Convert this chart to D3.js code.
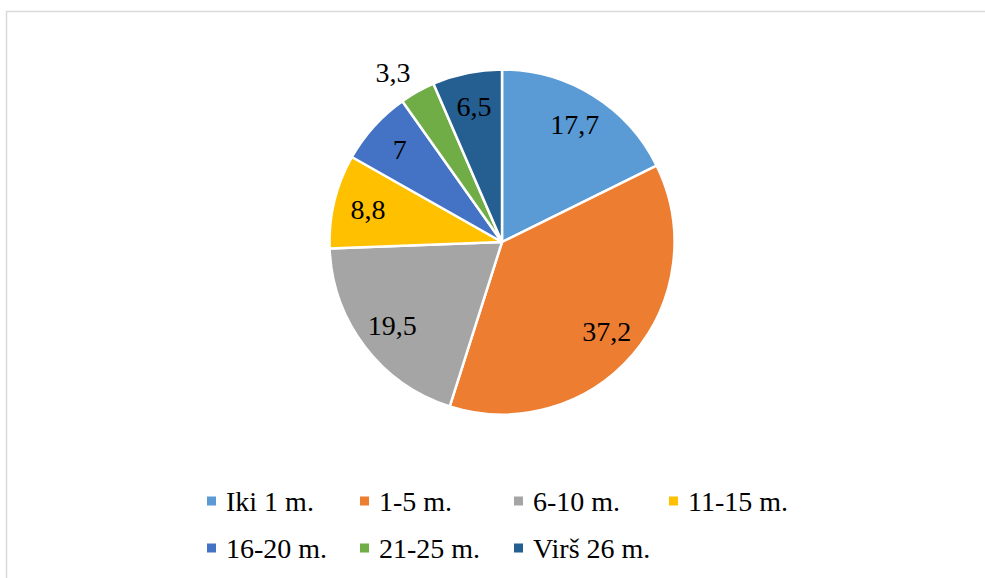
<!DOCTYPE html>
<html><head><meta charset="utf-8">
<script src="https://cdn.jsdelivr.net/npm/d3@7"></script>
<style>html,body{margin:0;padding:0;background:#fff;} svg{display:block;}</style>
</head><body>
<svg id="c" width="985" height="578"></svg>
<script>
const categories = ["Iki 1 m.", "1-5 m.", "6-10 m.", "11-15 m.", "16-20 m.", "21-25 m.", "Virš 26 m."];
const values = [17.7, 37.2, 19.5, 8.8, 7, 3.3, 6.5];
const labels = ["17,7", "37,2", "19,5", "8,8", "7", "3,3", "6,5"];
const colors = ["#5B9BD5", "#ED7D31", "#A5A5A5", "#FFC000", "#4472C4", "#70AD47", "#255E91"];

const FONT = '"Liberation Serif"';
const svg = d3.select("#c");

svg.append("rect").attr("x", 6.5).attr("y", 11.5).attr("width", 1100).attr("height", 700)
  .attr("fill", "none").attr("stroke", "#d9d9d9").attr("stroke-width", 1.5);

const cx = 502, cy = 242, r = 172.5;
const g = svg.append("g").attr("transform", `translate(${cx},${cy})`);
const pie = d3.pie().sort(null).value(d => d.v);
const data = pie(values.map((v, i) => ({v, i})));
const arc = d3.arc().innerRadius(0).outerRadius(r);
const labelArc = d3.arc().innerRadius(r * 0.8).outerRadius(r * 0.8);
const outArc = d3.arc().innerRadius(r * 1.17).outerRadius(r * 1.17);

g.selectAll("path.s").data(data).join("path")
  .attr("d", arc).attr("fill", d => colors[d.data.i])
  .attr("stroke", "#fff").attr("stroke-width", 2.5).attr("stroke-linejoin", "round");

g.selectAll("text.l").data(data).join("text")
  .attr("transform", d => {
    const small = d.data.v < 5;
    const [x, y] = small ? outArc.centroid(d) : labelArc.centroid(d);
    return `translate(${small ? x - 10 : x},${small ? y + 6 : y})`;
  })
  .attr("text-anchor", "middle").attr("dominant-baseline", "central")
  .style("font-family", FONT).style("font-size", "28px").attr("fill", "#000")
  .text(d => labels[d.data.i]);

// legend
const rows = [[0,1,2,3],[4,5,6]];
const textX = [226, 379, 533, 688];
const rowY = [501, 548];
rows.forEach((row, ri) => {
  row.forEach((idx, ci) => {
    const lg = svg.append("g").attr("transform", `translate(${textX[ci]},${rowY[ri]})`);
    lg.append("rect").attr("x", -19).attr("y", -4.5).attr("width", 9).attr("height", 9).attr("fill", colors[idx]);
    lg.append("text").attr("x", 0).attr("y", 0).attr("dominant-baseline", "central")
      .style("font-family", FONT).style("font-size", "28px").attr("fill", "#000").text(categories[idx]);
  });
});
</script>
</body></html>
